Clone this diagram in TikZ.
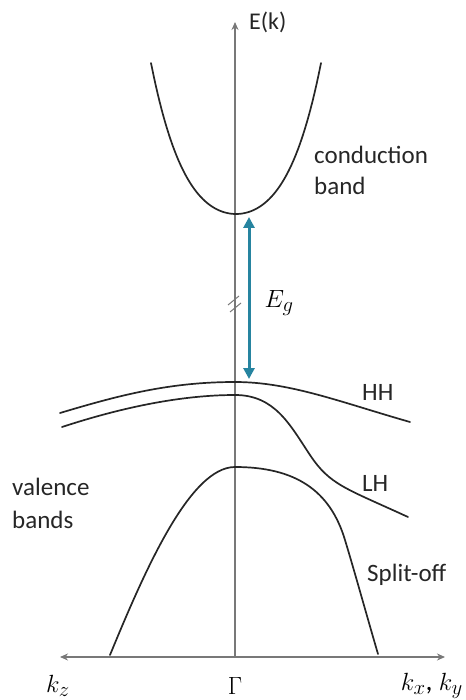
\documentclass[tikz,border=0pt]{standalone}
\usepackage{fontspec}
\setmainfont{Carlito}
\usetikzlibrary{arrows.meta}
\definecolor{axisgray}{RGB}{120,120,120}
\definecolor{gapteal}{RGB}{38,132,160}
\begin{document}
\begin{tikzpicture}[x=1pt,y=-1pt,
  axisline/.style={draw=axisgray,line width=1.3pt},
  band/.style={draw=black!85,line width=1.7pt,line cap=round},
  lbl/.style={font=\fontsize{25}{27}\selectfont,inner sep=0pt,anchor=west,text=black!85},
  mlbl/.style={font=\fontsize{28}{30}\selectfont,inner sep=0pt}]
\useasboundingbox (0,0) rectangle (465,700);
% axes
\coordinate (vtop) at (235,22);
\coordinate (vbot) at (235,657);
\coordinate (hl) at (60,657);
\coordinate (hr) at (445,657);
\draw[axisline,-{Stealth[length=8pt,width=7pt]}] (vbot) -- (vtop);
\draw[axisline,{Stealth[length=8pt,width=7pt]}-{Stealth[length=8pt,width=7pt]}] (hl) -- (hr);
% break mark
\coordinate (b1a) at (228,305); \coordinate (b1b) at (239,296);
\coordinate (b2a) at (230,312); \coordinate (b2b) at (241,303);
\draw[axisline,line width=1pt] (b1a) -- (b1b);
\draw[axisline,line width=1pt] (b2a) -- (b2b);
% labels on axes
\node[lbl,anchor=west,font=\fontsize{24}{26}\selectfont] (ek) at (249,22) {E(k)};
\node[mlbl] (kz) at (58,686) {$k_z$};
\node[mlbl] (gam) at (235,686) {$\Gamma$};
\node[mlbl,anchor=east] (kxy) at (463,686) {$k_x$, $k_y$};
% conduction band
\draw[band] plot[domain=-85:85,samples=80,smooth] ({236+\x},{214-1.227*(\x/10)^2-0.01195*(\x/10)^4});
\node[lbl] (cb1) at (314,155) {conduction};
\node[lbl] (cb2) at (314,186) {band};
% gap arrow
\coordinate (eg1) at (249,217);
\coordinate (eg2) at (249,379);
\draw[draw=gapteal,line width=3pt,{Triangle[length=11pt,width=11pt]}-{Triangle[length=11pt,width=11pt]}] (eg1) -- (eg2);
\node[mlbl] (eg) at (279,303) {$E_g$};
% HH
\draw[band] (60,413) .. controls (120,395) and (170,382) .. (235,382) .. controls (290,382) and (340,402) .. (410,422);
\node[lbl] (hh) at (362,392) {HH};
% LH
\draw[band] (62,427) .. controls (120,408) and (180,395) .. (235,395) .. controls (275,395) and (290,425) .. (310,455) .. controls (330,485) and (345,488) .. (408,517);
\node[lbl] (lh) at (362,483) {LH};
% split-off
\draw[band] (110,655) .. controls (145,570) and (190,467) .. (235,467) .. controls (295,467) and (330,490) .. (345,540) .. controls (355,573) and (368,620) .. (378,654);
\node[lbl] (so) at (367,575) {Split-off};
% valence bands
\node[lbl] (vb1) at (12,487) {valence};
\node[lbl] (vb2) at (12,520) {bands};
\end{tikzpicture}
\end{document}
